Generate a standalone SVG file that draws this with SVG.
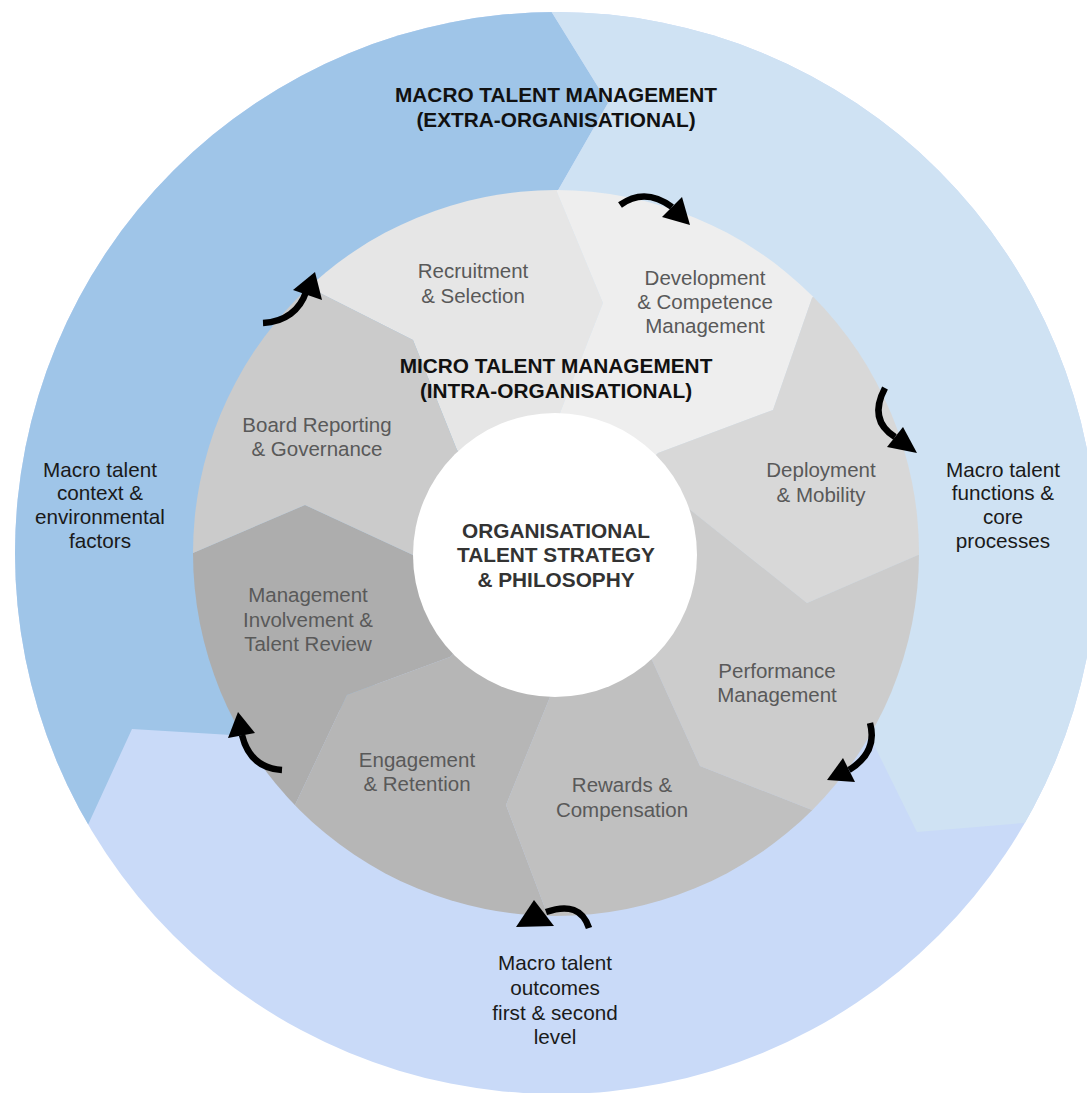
<svg xmlns="http://www.w3.org/2000/svg" width="1087" height="1093" viewBox="0 0 1087 1093">
<defs>
<clipPath id="outerClip"><circle cx="556" cy="553" r="541"/></clipPath>
<clipPath id="grayClip"><circle cx="556" cy="553" r="363"/></clipPath>
</defs>
<style>
text{font-family:"Liberation Sans",Arial,Helvetica,sans-serif}
.lbl{font-size:20.5px;fill:#595959;text-anchor:middle}
.macro{font-size:20.7px;fill:#1a1a1a;text-anchor:middle}
.title{font-size:20.8px;font-weight:bold;fill:#111;text-anchor:middle}
.core{font-size:20.8px;font-weight:bold;fill:#333;text-anchor:middle}
.shaft{fill:none;stroke:#000;stroke-width:6.5;stroke-linecap:butt}
.head{fill:#000}
</style>
<rect width="1087" height="1093" fill="#fff"/>

<g id="outer-ring" clip-path="url(#outerClip)">
  <rect id="macro-outcomes-bg" x="0" y="0" width="1087" height="1093" fill="#c9daf8"/>
  <polygon id="macro-context-bg" fill="#9fc5e8" points="538,-10 608,103 557,192 556,553 300,739 132,729 87,827 60,886 -10,886 -10,-10"/>
  <polygon id="macro-functions-bg" fill="#cfe2f3" points="538,-10 1100,-10 1100,818 1023,823 917,832 880,757 860,716 556,553 557,192 608,103"/>
</g>

<g id="macro-title">
  <text class="title" x="556" y="102">MACRO TALENT MANAGEMENT</text>
  <text class="title" x="556" y="127">(EXTRA-ORGANISATIONAL)</text>
</g>
<g id="macro-context">
  <text class="macro" x="100" y="477">Macro talent</text>
  <text class="macro" x="100" y="500">context &amp;</text>
  <text class="macro" x="100" y="524">environmental</text>
  <text class="macro" x="100" y="548">factors</text>
</g>
<g id="macro-functions">
  <text class="macro" x="1003" y="477">Macro talent</text>
  <text class="macro" x="1003" y="500">functions &amp;</text>
  <text class="macro" x="1003" y="524">core</text>
  <text class="macro" x="1003" y="548">processes</text>
</g>
<g id="macro-outcomes">
  <text class="macro" x="555" y="970">Macro talent</text>
  <text class="macro" x="555" y="995">outcomes</text>
  <text class="macro" x="555" y="1020">first &amp; second</text>
  <text class="macro" x="555" y="1044">level</text>
</g>

<g id="micro-ring" clip-path="url(#grayClip)">
  <g id="recruitment">
    <polygon fill="#e6e6e6" points="555,555 457,450 413,340 320,293 235,196 556,73 557,192 603,303 560,413"/>
  </g>
  <g id="development">
    <polygon fill="#eeeeee" points="555,555 560,413 603,303 557,192 556,73 895,214 812,298 773,410 658,453"/>
  </g>
  <g id="deployment">
    <polygon fill="#d8d8d8" points="555,555 658,453 773,410 812,298 895,214 1036,553 918,555 807,603 688,508"/>
  </g>
  <g id="performance">
    <polygon fill="#cccccc" points="555,555 688,508 807,603 918,555 1036,553 895,892 812,810 700,766 652,660"/>
  </g>
  <g id="rewards">
    <polygon fill="#c0c0c0" points="555,555 652,660 700,766 812,810 895,892 556,1033 548,916 506,805 550,697"/>
  </g>
  <g id="engagement">
    <polygon fill="#b6b6b6" points="555,555 550,697 506,805 548,916 556,1033 211,886 295,805 347,695 450,657"/>
  </g>
  <g id="management">
    <polygon fill="#adadad" points="555,555 450,657 347,695 295,805 211,886 76,553 193,553 305,505 413,555"/>
  </g>
  <g id="board">
    <polygon fill="#cbcbcb" points="555,555 413,555 305,505 193,553 76,553 235,196 320,293 413,340 457,450"/>
  </g>
</g>

<g id="micro-labels">
  <g id="recruitment-label">
    <text class="lbl" x="473" y="278">Recruitment</text>
    <text class="lbl" x="473" y="303">&amp; Selection</text>
  </g>
  <g id="development-label">
    <text class="lbl" x="705" y="285">Development</text>
    <text class="lbl" x="705" y="309">&amp; Competence</text>
    <text class="lbl" x="705" y="333">Management</text>
  </g>
  <g id="deployment-label">
    <text class="lbl" x="821" y="477">Deployment</text>
    <text class="lbl" x="821" y="502">&amp; Mobility</text>
  </g>
  <g id="performance-label">
    <text class="lbl" x="777" y="678">Performance</text>
    <text class="lbl" x="777" y="702">Management</text>
  </g>
  <g id="rewards-label">
    <text class="lbl" x="622" y="792">Rewards &amp;</text>
    <text class="lbl" x="622" y="817">Compensation</text>
  </g>
  <g id="engagement-label">
    <text class="lbl" x="417" y="767">Engagement</text>
    <text class="lbl" x="417" y="791">&amp; Retention</text>
  </g>
  <g id="management-label">
    <text class="lbl" x="308" y="602">Management</text>
    <text class="lbl" x="308" y="627">Involvement &amp;</text>
    <text class="lbl" x="308" y="651">Talent Review</text>
  </g>
  <g id="board-label">
    <text class="lbl" x="317" y="432">Board Reporting</text>
    <text class="lbl" x="317" y="456">&amp; Governance</text>
  </g>
</g>

<g id="micro-title">
  <text class="title" x="556" y="373">MICRO TALENT MANAGEMENT</text>
  <text class="title" x="556" y="398">(INTRA-ORGANISATIONAL)</text>
</g>

<g id="core">
  <circle cx="555" cy="555" r="142" fill="#ffffff"/>
  <text class="core" x="556" y="538">ORGANISATIONAL</text>
  <text class="core" x="556" y="562">TALENT STRATEGY</text>
  <text class="core" x="556" y="587">&amp; PHILOSOPHY</text>
</g>

<g id="connectors">
  <path class="shaft" d="M263,323 C285,322 300,310 306,292"/>
  <polygon class="head" points="315,272 293,290 322,300"/>
  <path class="shaft" d="M620,205 Q645,187 672,207"/>
  <polygon class="head" points="662,217 682,197 690,225"/>
  <path class="shaft" d="M885,388 Q868,420 895,437"/>
  <polygon class="head" points="887,447 903,427 917,453"/>
  <path class="shaft" d="M870,723 Q878,752 849,770"/>
  <polygon class="head" points="843,758 855,782 827,780"/>
  <path class="shaft" d="M589,928 Q580,900 546,912"/>
  <polygon class="head" points="534,900 554,926 516,927"/>
  <path class="shaft" d="M282,770 Q250,768 242,735"/>
  <polygon class="head" points="228,738 255,733 238,712"/>
</g>
</svg>
